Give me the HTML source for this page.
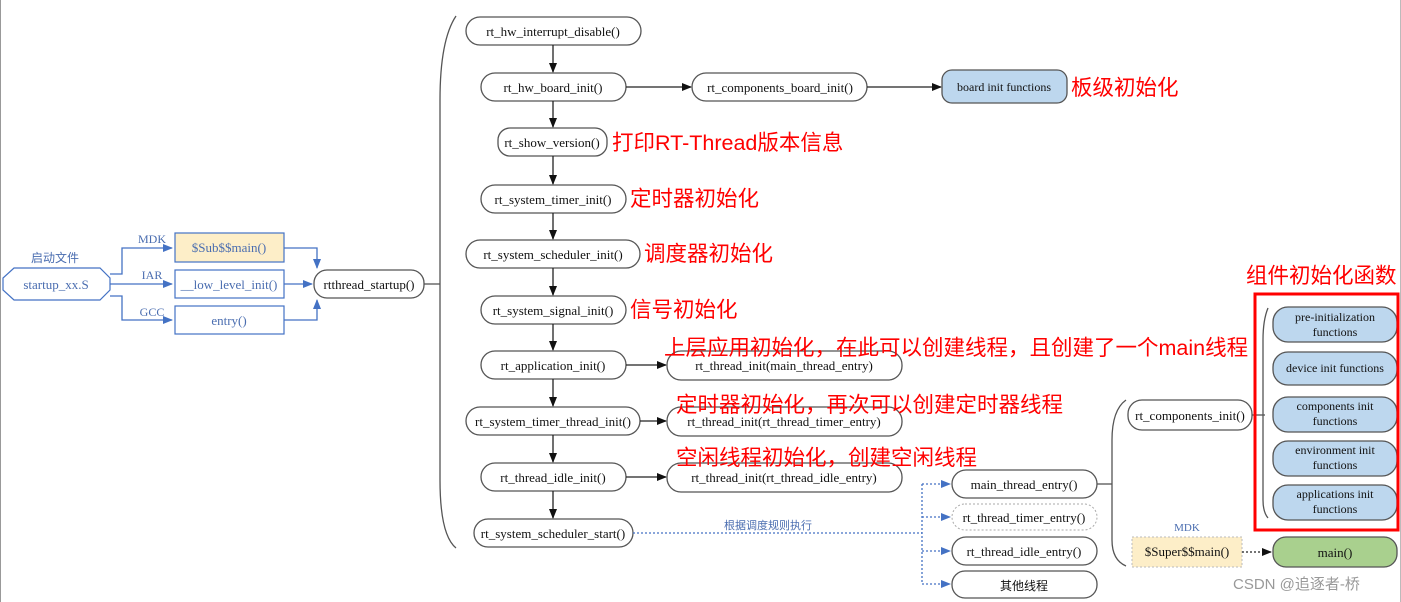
<!DOCTYPE html>
<html><head><meta charset="utf-8"><style>
html,body{margin:0;padding:0;background:#fff;}
svg{display:block;}
.n{fill:#fff;stroke:#555;stroke-width:1.3;}
.t{font-family:"Liberation Serif","Noto Serif CJK SC",serif;font-size:13px;fill:#111;text-anchor:middle;}
.b{font-family:"Liberation Serif",serif;font-size:13px;fill:#4a6db0;text-anchor:middle;}
.r{font-family:"Liberation Sans","Noto Sans CJK SC",sans-serif;font-size:21.5px;fill:#f00;}
.l{stroke:#222;stroke-width:1.3;fill:none;}
.bl{stroke:#4472c4;stroke-width:1.3;fill:none;}
.d{stroke:#4472c4;stroke-width:1.3;fill:none;stroke-dasharray:2,2;}
.blue{fill:#bdd7ee;stroke:#555;stroke-width:1.3;}
</style></head><body>
<svg width="1401" height="602" viewBox="0 0 1401 602" xmlns="http://www.w3.org/2000/svg">
<defs>
<marker id="a" markerWidth="10" markerHeight="8" refX="9" refY="4" orient="auto" markerUnits="userSpaceOnUse"><path d="M0,0 L10,4 L0,8z" fill="#111"/></marker>
<marker id="ab" markerWidth="10" markerHeight="8" refX="9" refY="4" orient="auto" markerUnits="userSpaceOnUse"><path d="M0,0 L10,4 L0,8z" fill="#4472c4"/></marker>
</defs>
<line x1="0.5" y1="0" x2="0.5" y2="602" stroke="#999"/>
<line x1="1400.5" y1="0" x2="1400.5" y2="602" stroke="#bbb"/>

<text x="55" y="262" class="b" style="font-family:'Noto Sans CJK SC',sans-serif;font-size:12px">启动文件</text>
<path d="M14,268 L100,268 L110,278 L110,290 L100,300 L14,300 L3,290 L3,278z" fill="#fff" stroke="#4472c4" stroke-width="1.2"/>
<text x="56" y="289" class="b">startup_xx.S</text>
<path class="bl" d="M110,274 L122,274 L122,248 L172,248" marker-end="url(#ab)"/>
<path class="bl" d="M110,284 L172,284" marker-end="url(#ab)"/>
<path class="bl" d="M110,296 L122,296 L122,320 L172,320" marker-end="url(#ab)"/>
<text x="152" y="243" class="b" style="font-size:12px">MDK</text>
<text x="152" y="279" class="b" style="font-size:12px">IAR</text>
<text x="152" y="316" class="b" style="font-size:12px">GCC</text>
<rect x="175" y="233" width="109" height="29" fill="#fdeec8" stroke="#4472c4" stroke-width="1.2"/>
<text x="229" y="252" class="b">$Sub$$main()</text>
<rect x="175" y="270" width="109" height="28" fill="#fff" stroke="#4472c4" stroke-width="1.2"/>
<text x="229" y="289" class="b">__low_level_init()</text>
<rect x="175" y="306" width="109" height="28" fill="#fff" stroke="#4472c4" stroke-width="1.2"/>
<text x="229" y="325" class="b">entry()</text>
<path class="bl" d="M284,248 L317,248 L317,268" marker-end="url(#ab)"/>
<path class="bl" d="M284,284 L312,284" marker-end="url(#ab)"/>
<path class="bl" d="M284,320 L317,320 L317,300" marker-end="url(#ab)"/>
<rect x="314" y="270" width="110" height="28" rx="13" class="n"/>
<text x="369" y="289" class="t">rtthread_startup()</text>
<line x1="424" y1="284" x2="440" y2="284" stroke="#555" stroke-width="1.3"/>
<path d="M456,16 Q440,40 440,100 L440,480 Q440,535 456,548" stroke="#555" stroke-width="1.3" fill="none"/>

<g>
<rect x="466" y="17" width="175" height="28" rx="14" class="n"/><text x="553" y="36" class="t">rt_hw_interrupt_disable()</text>
<rect x="481" y="73" width="145" height="28" rx="14" class="n"/><text x="553" y="92" class="t">rt_hw_board_init()</text>
<rect x="498" y="128" width="109" height="28" rx="12" class="n"/><text x="552" y="147" class="t">rt_show_version()</text>
<rect x="481" y="185" width="145" height="28" rx="14" class="n"/><text x="553" y="204" class="t">rt_system_timer_init()</text>
<rect x="466" y="240" width="174" height="28" rx="14" class="n"/><text x="553" y="259" class="t">rt_system_scheduler_init()</text>
<rect x="481" y="296" width="145" height="28" rx="14" class="n"/><text x="553" y="315" class="t">rt_system_signal_init()</text>
<rect x="481" y="351" width="145" height="28" rx="14" class="n"/><text x="553" y="370" class="t">rt_application_init()</text>
<rect x="466" y="407" width="174" height="28" rx="14" class="n"/><text x="553" y="426" class="t">rt_system_timer_thread_init()</text>
<rect x="481" y="463" width="145" height="28" rx="14" class="n"/><text x="553" y="482" class="t">rt_thread_idle_init()</text>
<rect x="474" y="519" width="159" height="28" rx="14" class="n"/><text x="553" y="538" class="t">rt_system_scheduler_start()</text>
<path class="l" d="M553,45 L553,72" marker-end="url(#a)"/>
<path class="l" d="M553,101 L553,127" marker-end="url(#a)"/>
<path class="l" d="M553,156 L553,184" marker-end="url(#a)"/>
<path class="l" d="M553,213 L553,239" marker-end="url(#a)"/>
<path class="l" d="M553,268 L553,295" marker-end="url(#a)"/>
<path class="l" d="M553,324 L553,350" marker-end="url(#a)"/>
<path class="l" d="M553,379 L553,406" marker-end="url(#a)"/>
<path class="l" d="M553,435 L553,462" marker-end="url(#a)"/>
<path class="l" d="M553,491 L553,518" marker-end="url(#a)"/>
</g>

<path class="l" d="M626,87 L691,87" marker-end="url(#a)"/>
<rect x="692" y="73" width="175" height="28" rx="14" class="n"/><text x="780" y="92" class="t">rt_components_board_init()</text>
<path class="l" d="M867,87 L941,87" marker-end="url(#a)"/>
<rect x="942" y="70" width="125" height="33" rx="10" class="blue"/><text x="1004" y="91" class="t" style="font-size:12px">board init functions</text>
<text x="1071" y="95" class="r">板级初始化</text>

<text x="612" y="150" class="r">打印RT-Thread版本信息</text>
<text x="630" y="206" class="r">定时器初始化</text>
<text x="644" y="261" class="r">调度器初始化</text>
<text x="630" y="317" class="r">信号初始化</text>

<path class="l" d="M626,365 L666,365" marker-end="url(#a)"/>
<rect x="667" y="351" width="235" height="29" rx="14" class="n"/><text x="784" y="370" class="t">rt_thread_init(main_thread_entry)</text>
<path class="l" d="M640,421 L666,421" marker-end="url(#a)"/>
<rect x="667" y="407" width="235" height="29" rx="14" class="n"/><text x="784" y="426" class="t">rt_thread_init(rt_thread_timer_entry)</text>
<path class="l" d="M626,477 L666,477" marker-end="url(#a)"/>
<rect x="667" y="463" width="235" height="29" rx="14" class="n"/><text x="784" y="482" class="t">rt_thread_init(rt_thread_idle_entry)</text>
<text x="664" y="355" class="r">上层应用初始化，在此可以创建线程，且创建了一个main线程</text>
<text x="676" y="412" class="r">定时器初始化，再次可以创建定时器线程</text>
<text x="676" y="465" class="r">空闲线程初始化，创建空闲线程</text>

<path class="d" d="M633,533 L922,533"/>
<text x="768" y="529" class="b" style="font-family:'Noto Sans CJK SC',sans-serif;font-size:11px">根据调度规则执行</text>
<path class="d" d="M922,484 L922,584"/>
<path class="d" d="M922,484 L950,484" marker-end="url(#ab)"/>
<path class="d" d="M922,517 L950,517" marker-end="url(#ab)"/>
<path class="d" d="M922,551 L950,551" marker-end="url(#ab)"/>
<path class="d" d="M922,584 L950,584" marker-end="url(#ab)"/>
<rect x="952" y="470" width="145" height="28" rx="14" class="n"/><text x="1024" y="489" class="t">main_thread_entry()</text>
<rect x="952" y="504" width="145" height="26" rx="13" fill="#fff" stroke="#aaa" stroke-dasharray="2,2"/><text x="1024" y="522" class="t">rt_thread_timer_entry()</text>
<rect x="952" y="537" width="145" height="28" rx="14" class="n"/><text x="1024" y="556" class="t">rt_thread_idle_entry()</text>
<rect x="952" y="571" width="145" height="27" rx="13" class="n"/><text x="1024" y="590" class="t" style="font-family:'Noto Sans CJK SC',sans-serif;font-size:12px">其他线程</text>

<line x1="1097" y1="484" x2="1112" y2="484" stroke="#555" stroke-width="1.3"/>
<path d="M1126,400 Q1112,410 1112,440 L1112,540 Q1112,560 1126,566" stroke="#555" stroke-width="1.3" fill="none"/>
<rect x="1128" y="400" width="124" height="30" rx="14" class="n"/><text x="1190" y="420" class="t">rt_components_init()</text>
<line x1="1252" y1="415" x2="1265" y2="415" stroke="#555" stroke-width="1.3"/>
<path d="M1268,308 Q1263,320 1263,340 L1263,500 Q1263,512 1268,518" stroke="#555" stroke-width="1.3" fill="none"/>
<rect x="1273" y="307" width="124" height="35" rx="15" class="blue"/><text x="1335" y="321" class="t" style="font-size:12px">pre-initialization</text><text x="1335" y="336" class="t" style="font-size:12px">functions</text>
<rect x="1273" y="352" width="124" height="33" rx="15" class="blue"/><text x="1335" y="372" class="t" style="font-size:12px">device init functions</text>
<rect x="1273" y="397" width="124" height="35" rx="15" class="blue"/><text x="1335" y="410" class="t" style="font-size:12px">components init</text><text x="1335" y="425" class="t" style="font-size:12px">functions</text>
<rect x="1273" y="441" width="124" height="35" rx="15" class="blue"/><text x="1335" y="454" class="t" style="font-size:12px">environment init</text><text x="1335" y="469" class="t" style="font-size:12px">functions</text>
<rect x="1273" y="485" width="124" height="35" rx="15" class="blue"/><text x="1335" y="498" class="t" style="font-size:12px">applications init</text><text x="1335" y="513" class="t" style="font-size:12px">functions</text>
<rect x="1255" y="294" width="143" height="236" fill="none" stroke="#f00" stroke-width="3"/>
<text x="1246" y="283" class="r">组件初始化函数</text>

<text x="1187" y="531" class="b" style="font-size:11px">MDK</text>
<rect x="1132" y="537" width="110" height="30" fill="#fdeec8" stroke="#bbb" stroke-dasharray="2,2"/>
<text x="1187" y="556" class="t">$Super$$main()</text>
<path d="M1242,552 L1271,552" stroke="#222" stroke-width="1.3" stroke-dasharray="2,2" fill="none" marker-end="url(#a)"/>
<rect x="1273" y="537" width="124" height="30" rx="13" fill="#a9d08e" stroke="#555" stroke-width="1.3"/>
<text x="1335" y="557" class="t">main()</text>

<text x="1233" y="589" style="font-family:'Liberation Sans','Noto Sans CJK SC',sans-serif;font-size:15px;fill:#999">CSDN @追逐者-桥</text>
</svg>
</body></html>
